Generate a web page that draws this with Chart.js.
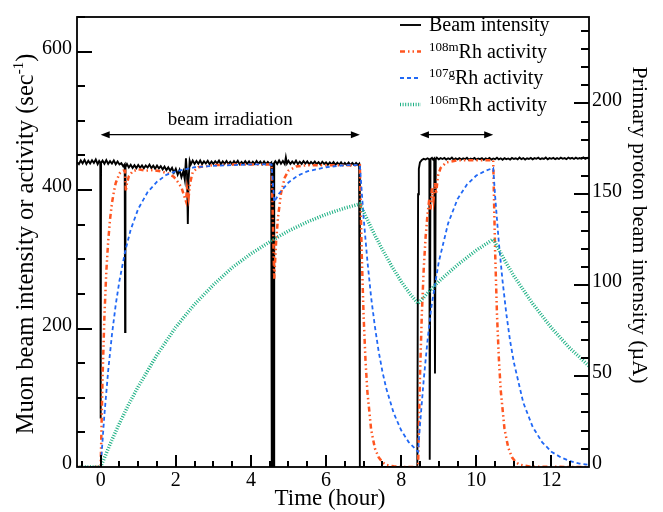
<!DOCTYPE html>
<html>
<head>
<meta charset="utf-8">
<script src="https://cdn.jsdelivr.net/npm/chart.js@4.4.0/dist/chart.umd.min.js"></script>
<style>
  html, body { margin: 0; padding: 0; background: #fff; }
</style>
</head>
<body>
<canvas id="chart" width="663" height="512"></canvas>
<script>
// primary proton beam current (uA), [time in hours, value]
const beamIntensity = [
  [-0.63,167.6],[-0.58,166.6],[-0.53,168.6],[-0.48,167.0],[-0.43,168.9],[-0.38,166.7],[-0.33,168.4],
  [-0.28,166.9],[-0.23,168.7],[-0.18,167.2],[-0.13,169.1],[-0.08,166.6],[-0.04,168.3],[-0.01,167.4],
  [0.0,26.7],
  [0.01,167.2],[0.05,168.5],[0.1,166.8],[0.15,168.8],[0.2,166.7],[0.25,168.2],[0.3,166.9],[0.35,168.6],
  [0.4,166.5],[0.45,168.0],[0.5,166.4],[0.55,167.1],[0.6,165.4],[0.64,166.5],
  [0.65,74.2],
  [0.66,165.0],[0.7,166.6],[0.75,164.7],[0.8,166.2],[0.85,164.5],[0.9,166.0],[0.95,164.4],[1.0,166.1],
  [1.05,164.6],[1.1,165.9],[1.15,164.3],[1.2,165.8],[1.25,164.7],[1.3,166.3],[1.35,164.4],[1.4,165.7],
  [1.45,164.1],[1.5,165.8],[1.55,164.2],[1.6,165.5],[1.65,163.7],[1.7,165.2],[1.75,163.3],[1.8,164.8],
  [1.85,163.0],[1.9,164.6],[1.95,161.9],[2.0,164.0],[2.05,160.8],[2.1,163.4],[2.15,159.4],[2.2,162.6],
  [2.24,158.0],[2.27,169.8],[2.3,160.5],[2.32,133.6],[2.34,157.8],[2.37,168.4],[2.4,166.4],[2.45,168.5],
  [2.5,166.7],[2.55,168.3],[2.6,166.8],[2.65,168.6],[2.7,166.6],[2.75,168.1],[2.8,166.9],[2.85,168.4],
  [2.9,166.5],[2.95,168.0],[3.0,166.7],[3.05,168.2],[3.1,167.0],[3.15,168.5],[3.2,166.6],[3.25,168.1],
  [3.3,166.8],[3.35,168.3],[3.4,166.7],[3.45,167.9],[3.5,166.6],[3.55,168.2],[3.6,166.9],[3.65,168.4],
  [3.7,166.5],[3.75,167.8],[3.8,166.7],[3.85,168.2],[3.9,166.8],[3.95,168.1],[4.0,166.6],[4.05,167.9],
  [4.1,166.7],[4.15,168.3],[4.2,166.8],[4.25,168.0],[4.3,166.5],[4.35,168.1],[4.4,166.6],[4.45,167.8],
  [4.5,166.7],[4.54,167.4],
  [4.555,0],[4.565,0],[4.57,166.2],[4.6,166.8],[4.605,0],[4.615,0],[4.62,167.2],
  [4.65,168.2],[4.7,166.7],[4.75,168.6],[4.8,166.8],[4.85,168.3],[4.9,166.6],[4.93,170.3],[4.96,166.9],
  [5.0,168.4],[5.05,166.7],[5.1,168.0],[5.15,166.8],[5.2,168.5],[5.25,166.6],[5.3,167.9],[5.35,166.7],
  [5.4,168.2],[5.45,166.9],[5.5,168.1],[5.55,166.5],[5.6,167.8],[5.65,166.7],[5.7,168.0],[5.75,166.6],
  [5.8,167.7],[5.85,166.4],[5.9,167.9],[5.95,166.7],[6.0,167.6],[6.05,166.3],[6.1,167.5],[6.15,166.4],
  [6.2,167.7],[6.25,166.2],[6.3,167.4],[6.35,166.3],[6.4,167.6],[6.45,166.1],[6.5,167.3],[6.55,166.2],
  [6.6,167.4],[6.65,166.0],[6.7,167.2],[6.75,166.1],[6.8,167.3],[6.85,166.2],[6.88,166.8],
  [6.9,0],[8.43,0],
  [8.45,150],[8.47,164],[8.5,167.5],[8.55,168.9],[8.6,169.5],[8.65,169.1],[8.7,169.8],[8.75,169.2],
  [8.76,4.0],[8.78,169.4],[8.82,170.0],[8.85,169.1],[8.88,169.7],
  [8.9,51.4],[8.92,169.3],[8.95,170.1],[9.0,169.2],[9.05,169.9],
  [9.1,169.4],[9.15,170.0],[9.2,169.1],[9.25,169.8],[9.3,169.3],[9.35,170.2],[9.4,169.0],[9.45,169.7],
  [9.5,169.2],[9.55,169.9],[9.6,169.1],[9.65,169.8],[9.7,169.3],[9.75,170.1],[9.8,169.0],[9.85,169.6],
  [9.9,169.2],[9.95,170.0],[10.0,169.1],[10.05,169.7],[10.1,169.3],[10.15,169.9],[10.2,169.0],[10.25,169.8],
  [10.3,169.2],[10.35,170.0],[10.4,169.1],[10.45,169.7],[10.5,169.3],[10.55,170.1],[10.6,169.2],[10.65,169.8],
  [10.7,169.0],[10.75,169.9],[10.8,169.3],[10.85,169.7],[10.9,169.1],[10.95,170.0],[11.0,169.4],[11.05,169.8],
  [11.1,169.2],[11.15,170.2],[11.2,169.3],[11.25,169.9],[11.3,169.1],[11.35,169.8],[11.4,169.4],[11.45,170.0],
  [11.5,169.2],[11.55,169.9],[11.6,169.5],[11.65,170.1],[11.7,169.3],[11.75,169.8],[11.8,169.4],[11.85,170.2],
  [11.9,169.2],[11.95,169.9],[12.0,169.5],[12.05,170.0],[12.1,169.3],[12.15,169.9],[12.2,169.4],[12.25,170.1],
  [12.3,169.5],[12.35,169.9],[12.4,169.3],[12.45,170.2],[12.5,169.6],[12.55,170.0],[12.6,169.4],[12.65,170.1],
  [12.7,169.5],[12.75,169.9],[12.8,169.6],[12.85,170.3],[12.9,169.5],[12.95,170.0],[13.0,169.6]
];

// activities (sec^-1), [time in hours, value]
const rh108m = [
  [-0.63,0],[0,0],[0.05,128],[0.1,218],[0.15,282],[0.2,326],[0.25,358],[0.3,381],[0.35,397],[0.4,410],
  [0.5,424],[0.6,428],[0.65,428],[0.67,398],[0.7,410],[0.75,420],[0.85,427],[1.0,430],[1.2,428],[1.4,429],
  [1.6,427],[1.8,424],[1.95,419],[2.05,412],[2.15,404],[2.22,392],[2.27,384],[2.3,402],[2.34,389],[2.38,410],
  [2.45,426],[2.6,433],[3.0,436],[3.5,437],[4.0,437],[4.55,437],[4.62,272],[4.67,325],[4.72,360],[4.8,395],
  [4.9,418],[5.0,428],[5.2,434],[5.5,436],[6.0,436],[6.9,436],[6.95,308],[7.0,218],[7.05,154],[7.1,109],
  [7.2,54],[7.3,27],[7.4,14],[7.5,7],[7.6,3],[7.8,1],[8.0,0],[8.45,0],[8.5,130],[8.55,221],[8.6,286],
  [8.65,332],[8.7,364],[8.75,388],[8.78,372],[8.82,404],[8.86,386],[8.9,410],[8.93,395],[8.98,421],[9.05,432],
  [9.2,440],[9.5,443],[10.0,443],[10.45,443],[10.5,313],[10.55,221],[10.6,157],[10.65,111],[10.75,55],
  [10.85,28],[10.95,14],[11.05,7],[11.15,3.5],[11.45,0.4],[13.0,0]
];
const rh107g = [
  [-0.63,0],[0,0],[0.1,76],[0.2,139],[0.3,191],[0.4,234],[0.5,269],[0.65,311],[0.8,343],[1.0,373],
  [1.25,397],[1.5,412],[1.75,422],[2.0,427],[2.5,433],[3.0,435],[3.5,436],[4.0,437],[4.55,437],[4.62,383],
  [4.75,395],[5.0,411],[5.25,421],[5.5,427],[6.0,433],[6.5,436],[6.9,436],[7.0,360],[7.1,298],[7.2,245],
  [7.3,203],[7.4,167],[7.5,138],[7.6,114],[7.8,78],[8.0,53],[8.2,36],[8.45,22],[8.5,60],[8.6,126],
  [8.7,182],[8.8,230],[9.0,296],[9.25,352],[9.5,387],[9.75,408],[10.0,421],[10.25,428],[10.45,432],
  [10.5,392],[10.6,324],[10.7,268],[10.8,221],[10.9,182],[11.0,151],[11.25,93],[11.5,58],[11.75,36],
  [12.0,22],[12.25,14],[12.5,8.5],[12.75,5],[13.0,3.3]
];
const rh106m = [
  [-0.63,0],[0,0],[0.25,33],[0.5,63],[0.75,91],[1.0,116],[1.5,162],[2.0,202],[2.5,235],[3.0,263],
  [3.5,288],[4.0,308],[4.55,327],[5.0,341],[5.5,354],[6.0,365],[6.5,374],[6.9,380],[7.25,340],[7.5,314],
  [7.75,290],[8.0,268],[8.25,249],[8.45,236],[8.75,254],[9.0,268],[9.5,292],[10.0,313],[10.45,329],
  [10.75,299],[11.0,276],[11.5,236],[12.0,201],[12.5,171],[13.0,146]
];

// irradiation periods (hours) shown with arrows
const irradiationStart = [0, 8.5];
const irradiationEnd = [6.9, 10.45];

const xTickLabels = [0, 2, 4, 6, 8, 10, 12];
const yTickLabels = [0, 200, 400, 600];
const y1TickLabels = [0, 50, 100, 150, 200];

const legendSup = ["", "108m", "107g", "106m"];
const legendText = ["Beam intensity", "Rh activity", "Rh activity", "Rh activity"];

const SERIF = "'Liberation Serif', 'Times New Roman', serif";
Chart.defaults.font.family = SERIF;
Chart.defaults.color = "#000";

function steps(from, to, step) {
    let out = [];
    for (let v = from; v <= to + 1e-9; v += step) out.push(+v.toFixed(2));
    return out;
}
const xMinor = steps(-0.5, 12.5, 0.5);
const yMinor = steps(50, 650, 50);
const y1Minor = steps(10, 240, 10);

function toXY(pairs) {
    return pairs.map(p => ({ x: p[0], y: p[1] }));
}

// inward tick marks and the frame
const tickPlugin = {
    id: "innerTicks",
    afterDraw(chart) {
        const ctx = chart.ctx;
        const a = chart.chartArea;
        const sx = chart.scales.x, sy = chart.scales.y, sy1 = chart.scales.y1;
        ctx.save();
        ctx.fillStyle = "#000";
        for (const v of xMinor) {
            const p = Math.round(sx.getPixelForValue(v));
            const len = xTickLabels.indexOf(v) >= 0 ? 12 : 6;
            ctx.fillRect(p - 1, a.bottom - len, 2, len);
        }
        for (const v of yMinor) {
            const p = Math.round(sy.getPixelForValue(v));
            const len = yTickLabels.indexOf(v) >= 0 ? 15 : 8;
            ctx.fillRect(a.left, p - 1, len, 2);
        }
        for (const v of y1Minor) {
            const p = Math.round(sy1.getPixelForValue(v));
            const len = y1TickLabels.indexOf(v) >= 0 ? 15 : 8;
            ctx.fillRect(a.right - len, p - 1, len, 2);
        }
        ctx.strokeStyle = "#000";
        ctx.lineWidth = 1.8;
        ctx.strokeRect(a.left, a.top, a.right - a.left, a.bottom - a.top);
        ctx.restore();
    }
};

// titles, arrows and legend
const decorPlugin = {
    id: "decor",
    afterDraw(chart) {
        const ctx = chart.ctx;
        const xs = chart.scales.x, ys = chart.scales.y;
        ctx.save();
        ctx.fillStyle = "#000";
        ctx.strokeStyle = "#000";

        ctx.textBaseline = "alphabetic";
        ctx.font = "23px " + SERIF;
        ctx.textAlign = "center";
        ctx.fillText("Time (hour)", 330, 505);

        ctx.textAlign = "left";
        const t1 = "Muon beam intensity or activity (sec";
        ctx.font = "24.5px " + SERIF;
        const w1 = ctx.measureText(t1).width;
        const w3 = ctx.measureText(")").width;
        ctx.font = "15px " + SERIF;
        const w2 = ctx.measureText("-1").width;
        const total = w1 + w2 + w3;
        ctx.save();
        ctx.translate(33, 244);
        ctx.rotate(-Math.PI / 2);
        ctx.font = "24.5px " + SERIF;
        ctx.fillText(t1, -total / 2, 0);
        ctx.font = "15px " + SERIF;
        ctx.fillText("-1", -total / 2 + w1, -10);
        ctx.font = "24.5px " + SERIF;
        ctx.fillText(")", -total / 2 + w1 + w2, 0);
        ctx.restore();

        ctx.save();
        ctx.translate(633, 225);
        ctx.rotate(Math.PI / 2);
        ctx.font = "22px " + SERIF;
        ctx.textAlign = "center";
        ctx.fillText("Primary proton beam intensity (\u00b5A)", 0, 0);
        ctx.restore();

        // irradiation arrows
        ctx.lineWidth = 1.2;
        const ay = ys.getPixelForValue(480);
        irradiationStart.forEach((s, i) => {
            const x0 = xs.getPixelForValue(s), x1 = xs.getPixelForValue(irradiationEnd[i]);
            ctx.beginPath(); ctx.moveTo(x0 + 4, ay); ctx.lineTo(x1 - 4, ay); ctx.stroke();
            ctx.beginPath(); ctx.moveTo(x0, ay); ctx.lineTo(x0 + 9, ay - 3.5); ctx.lineTo(x0 + 9, ay + 3.5); ctx.closePath(); ctx.fill();
            ctx.beginPath(); ctx.moveTo(x1, ay); ctx.lineTo(x1 - 9, ay - 3.5); ctx.lineTo(x1 - 9, ay + 3.5); ctx.closePath(); ctx.fill();
        });
        ctx.font = "19px " + SERIF;
        ctx.textAlign = "center";
        ctx.fillText("beam irradiation",
            xs.getPixelForValue((irradiationStart[0] + irradiationEnd[0]) / 2), ay - 10);

        // legend
        ctx.textAlign = "left";
        chart.data.datasets.forEach((ds, i) => {
            const ly = 25 + i * 26.5;
            ctx.save();
            ctx.strokeStyle = ds.borderColor;
            ctx.lineWidth = ds.borderWidth;
            ctx.setLineDash(ds.borderDash || []);
            ctx.beginPath(); ctx.moveTo(400, ly); ctx.lineTo(421, ly); ctx.stroke();
            ctx.restore();
            let tx = 429;
            if (legendSup[i]) {
                ctx.font = "13px " + SERIF;
                ctx.fillText(legendSup[i], tx, ly - 1);
                tx += ctx.measureText(legendSup[i]).width;
            }
            ctx.font = "20px " + SERIF;
            ctx.fillText(legendText[i], tx, ly + 6);
        });
        ctx.restore();
    }
};

const tickFont = { family: SERIF, size: 20 };

new Chart(document.getElementById("chart"), {
    type: "line",
    data: {
        datasets: [
            {
                label: "Beam intensity",
                data: toXY(beamIntensity),
                yAxisID: "y1",
                borderColor: "#000000",
                borderWidth: 1.9,
                order: 4,
            },
            {
                label: "108mRh activity",
                data: toXY(rh108m),
                yAxisID: "y",
                borderColor: "#ff5520",
                borderWidth: 2.5,
                borderDash: [5, 3, 1.5, 3, 1.5, 3],
                order: 3,
            },
            {
                label: "107gRh activity",
                data: toXY(rh107g),
                yAxisID: "y",
                borderColor: "#2068f5",
                borderWidth: 1.8,
                borderDash: [4, 3],
                order: 2,
            },
            {
                label: "106mRh activity",
                data: toXY(rh106m),
                yAxisID: "y",
                borderColor: "#1bb083",
                borderWidth: 3.5,
                borderDash: [1, 1.6],
                order: 1,
            },
        ],
    },
    options: {
        responsive: false,
        animation: false,
        devicePixelRatio: 1,
        layout: { padding: { top: 11, left: 0, right: 0, bottom: 0 } },
        elements: { point: { radius: 0 }, line: { tension: 0 } },
        plugins: { legend: { display: false }, tooltip: { enabled: false } },
        scales: {
            x: {
                type: "linear",
                min: -0.63,
                max: 13,
                afterBuildTicks: s => { s.ticks = xTickLabels.map(v => ({ value: v })); },
                afterFit: s => { s.height = 45; },
                ticks: { autoSkip: false, maxRotation: 0, padding: 2, font: tickFont, color: "#000" },
                grid: { display: false, drawTicks: false },
                border: { display: false },
            },
            y: {
                position: "left",
                min: 0,
                max: 650,
                afterBuildTicks: s => { s.ticks = yTickLabels.map(v => ({ value: v })); },
                afterFit: s => { s.width = 77; },
                ticks: { autoSkip: false, padding: 5, labelOffset: -3, font: tickFont, color: "#000" },
                grid: { display: false, drawTicks: false },
                border: { display: false },
            },
            y1: {
                position: "right",
                min: 0,
                max: 247.5,
                afterBuildTicks: s => { s.ticks = y1TickLabels.map(v => ({ value: v })); },
                afterFit: s => { s.width = 74; },
                ticks: { autoSkip: false, padding: 3, labelOffset: -3, font: tickFont, color: "#000" },
                grid: { display: false, drawTicks: false },
                border: { display: false },
            },
        },
    },
    plugins: [tickPlugin, decorPlugin],
});
</script>
</body>
</html>
